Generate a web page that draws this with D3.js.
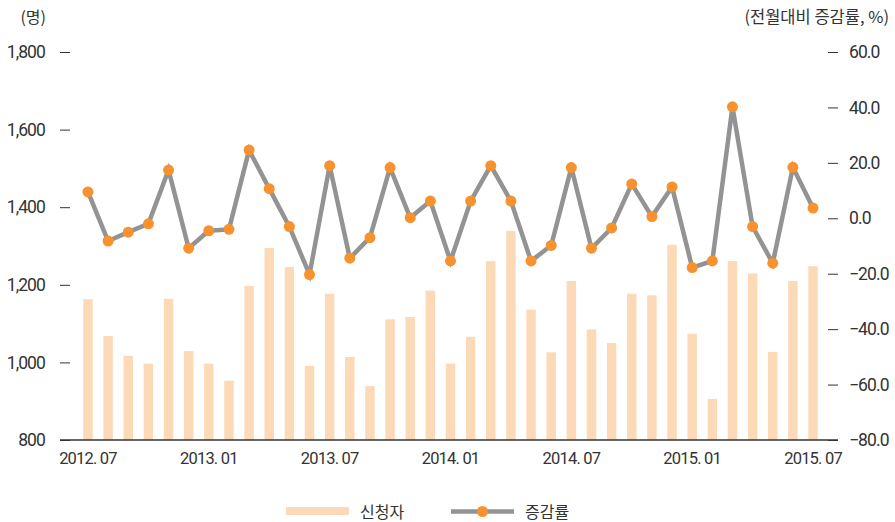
<!DOCTYPE html>
<html>
<head>
<meta charset="utf-8">
<script src="https://cdn.jsdelivr.net/npm/d3@7"></script>
<style>
  body { margin: 0; background: #fff; }
  svg text { font-family: "Roboto", sans-serif; fill: #333; }
  .kr { font-family: "Noto Sans CJK KR", "Noto Sans", sans-serif; }
</style>
</head>
<body>
<svg id="chart" width="895" height="522"></svg>
<script>
const WIDTH = 895,
      HEIGHT = 522,
      BASE_Y = 440,
      TOP_Y = 52;

// months 2012.07 - 2015.07
const months = ['2012. 07','2012. 08','2012. 09','2012. 10','2012. 11','2012. 12',
                '2013. 01','2013. 02','2013. 03','2013. 04','2013. 05','2013. 06',
                '2013. 07','2013. 08','2013. 09','2013. 10','2013. 11','2013. 12',
                '2014. 01','2014. 02','2014. 03','2014. 04','2014. 05','2014. 06',
                '2014. 07','2014. 08','2014. 09','2014. 10','2014. 11','2014. 12',
                '2015. 01','2015. 02','2015. 03','2015. 04','2015. 05','2015. 06',
                '2015. 07'];

// 신청자 (명)
const applicants = [1163, 1068, 1017, 997, 1164, 1029,
                    997, 953, 1197, 1295, 1246, 991,
                    1177, 1014, 939, 1111, 1117, 1185,
                    997, 1066, 1261, 1339, 1136, 1026,
                    1210, 1085, 1050, 1177, 1173, 1303,
                    1074, 906, 1261, 1229, 1027, 1210,
                    1248];

// 증감률 (전월대비, %)
const changeRate = [9.5, -8.2, -5.0, -2.0, 17.4, -10.8,
                    -4.5, -4.0, 24.6, 10.7, -3.0, -20.3,
                    19.0, -14.4, -7.0, 18.3, 0.2, 6.2,
                    -15.4, 6.2, 19.0, 6.2, -15.4, -9.8,
                    18.3, -10.8, -3.5, 12.4, 0.6, 11.3,
                    -17.8, -15.4, 40.2, -3.0, -16.2, 18.4,
                    3.7];

const leftTicks = [800, 1000, 1200, 1400, 1600, 1800];
const rightTicks = [-80, -60, -40, -20, 0, 20, 40, 60];
const xTickLabels = ['2012. 07', '2013. 01', '2013. 07', '2014. 01', '2014. 07', '2015. 01', '2015. 07'];

const svg = d3.select('#chart');

let x = d3.scaleBand()
    .domain(months)
    .range([78, 823])
    .paddingInner(0.53)
    .paddingOuter(0.26);

let yL = d3.scaleLinear().domain([800, 1800]).range([BASE_Y, TOP_Y]);
let yR = d3.scaleLinear().domain([-80, 60]).range([BASE_Y, TOP_Y]);

const cx = (d) => x(d) + x.bandwidth() / 2;

// bars
svg.append('g')
    .selectAll('rect')
    .data(applicants)
    .enter()
    .append('rect')
    .attr('x', (d, i) => x(months[i]))
    .attr('y', (d) => yL(d))
    .attr('width', x.bandwidth())
    .attr('height', (d) => BASE_Y - yL(d))
    .attr('fill', '#fddab7');

// left axis
let leftAxis = svg.append('g')
    .attr('transform', 'translate(70,0)')
    .call(d3.axisLeft(yL).tickValues(leftTicks).tickSize(10).tickPadding(15).tickFormat(d3.format(',')));
leftAxis.select('.domain').remove();
leftAxis.selectAll('line').attr('stroke', '#333');
leftAxis.selectAll('text').style('font-size', '17.5px').style('letter-spacing', '-0.9px').attr('fill', '#333');

// right axis
let rightAxis = svg.append('g')
    .attr('transform', 'translate(828,0)')
    .call(d3.axisRight(yR).tickValues(rightTicks).tickSize(10).tickPadding(11).tickFormat(d3.format('.1f')));
rightAxis.select('.domain').remove();
rightAxis.selectAll('line').attr('stroke', '#333');
rightAxis.selectAll('text').style('font-size', '17.5px').style('letter-spacing', '-0.9px').attr('fill', '#333');

// bottom axis
let bottomAxis = svg.append('g')
    .attr('transform', `translate(0,${BASE_Y})`)
    .call(d3.axisBottom(x).tickValues(xTickLabels).tickSize(0).tickPadding(12));
bottomAxis.select('.domain').remove();
bottomAxis.selectAll('text').style('font-size', '16.5px').style('letter-spacing', '-0.8px').attr('fill', '#333');

svg.append('line')
    .attr('x1', 60).attr('x2', 838)
    .attr('y1', BASE_Y).attr('y2', BASE_Y)
    .attr('stroke', '#333')
    .attr('stroke-width', 1.5);

// rate line
let line = d3.line()
    .x((d, i) => cx(months[i]))
    .y((d) => yR(d));

svg.append('path')
    .datum(changeRate)
    .attr('d', line)
    .attr('fill', 'none')
    .attr('stroke', '#939393')
    .attr('stroke-width', 4.5)
    .attr('stroke-linejoin', 'miter');

svg.append('g')
    .selectAll('circle')
    .data(changeRate)
    .enter()
    .append('circle')
    .attr('cx', (d, i) => cx(months[i]))
    .attr('cy', (d) => yR(d))
    .attr('r', 5.5)
    .attr('fill', '#f7922e');

// unit titles
svg.append('text')
    .attr('class', 'kr')
    .attr('x', 46).attr('y', 23)
    .attr('text-anchor', 'end')
    .style('font-size', '16px')
    .attr('fill', '#555')
    .text('(명)');

svg.append('text')
    .attr('class', 'kr')
    .attr('x', 889).attr('y', 23)
    .attr('text-anchor', 'end')
    .style('font-size', '16.5px')
    .attr('fill', '#555')
    .text('(전월대비 증감률, %)');

// legend
let legend = svg.append('g');
legend.append('rect')
    .attr('x', 286).attr('y', 507)
    .attr('width', 63).attr('height', 8)
    .attr('fill', '#fddab7');
legend.append('text')
    .attr('class', 'kr')
    .attr('x', 360).attr('y', 518)
    .style('font-size', '16px')
    .text('신청자');
legend.append('line')
    .attr('x1', 451).attr('x2', 514)
    .attr('y1', 511.5).attr('y2', 511.5)
    .attr('stroke', '#939393')
    .attr('stroke-width', 4.5);
legend.append('circle')
    .attr('cx', 482.5).attr('cy', 511.5)
    .attr('r', 5.5)
    .attr('fill', '#f7922e');
legend.append('text')
    .attr('class', 'kr')
    .attr('x', 525).attr('y', 518)
    .style('font-size', '16px')
    .text('증감률');
</script>
</body>
</html>
